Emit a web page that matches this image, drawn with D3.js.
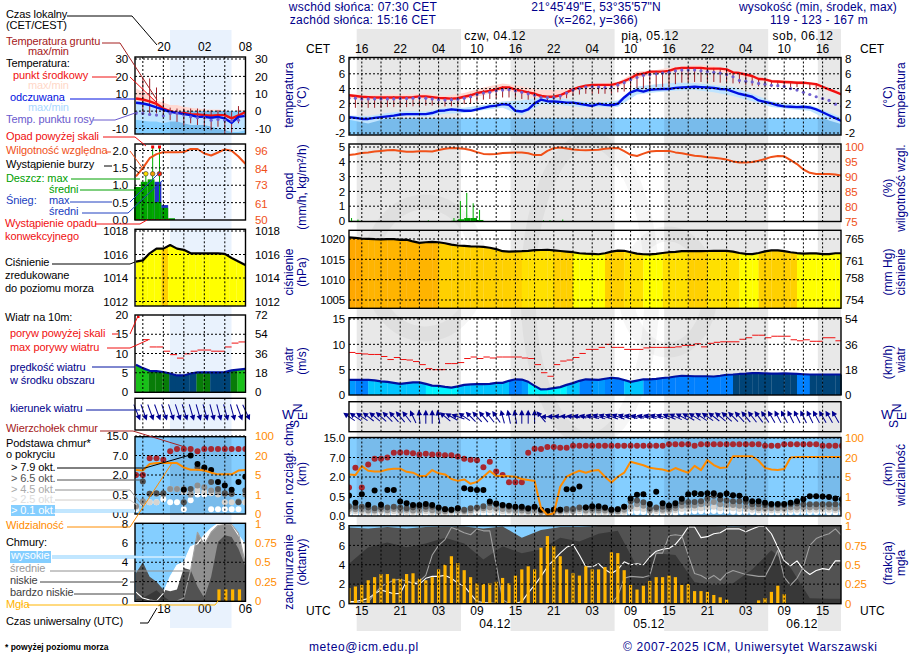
<!DOCTYPE html>
<html><head><meta charset="utf-8">
<script src="https://cdn.jsdelivr.net/npm/d3@7"></script>
<style>
html,body{margin:0;padding:0;background:#fff}
svg{display:block}
text{font-family:"Liberation Sans",Arial,sans-serif;font-size:12px}
</style></head><body><svg id="c" width="910" height="660"></svg>
<script>
// ---------- MAIN PANEL DATA (hourly from 13 UTC 03.12, index i) ----------
const tMid=[3.1,3.0,2.9,2.85,2.8,2.8,2.8,2.8,2.8,2.8,2.85,2.95,2.95,2.85,2.75,2.7,2.65,2.7,2.9,3.1,3.4,3.55,3.7,3.9,4.15,4.15,3.85,3.7,3.5,3.3,3.0,2.9,2.9,3.1,3.5,3.9,4.2,4.4,4.5,4.5,4.5,4.5,4.7,5.0,5.4,5.9,6.0,6.3,6.3,6.3,6.4,6.7,6.8,6.8,6.8,6.8,6.7,6.7,6.7,6.6,6.2,6.1,5.9,5.7,5.3,5.25,5.0,4.95,4.9,4.85,4.8,4.8,4.7,4.6,4.25,3.9,3.55,3.2];
const feels=[0.15,0.05,-0.1,-0.1,0.05,0.15,0.25,0.35,0.5,0.55,0.55,0.55,0.55,0.7,1.0,1.05,1.2,1.1,1.0,1.0,1.2,1.4,1.6,1.7,1.9,1.8,1.0,0.9,1.2,2.0,2.5,2.3,2.25,2.2,2.1,2.1,1.95,1.8,1.65,1.95,1.8,1.75,1.95,2.8,3.5,3.8,3.6,3.85,3.9,3.95,3.95,4.1,4.15,4.2,4.25,4.2,4.15,4.1,3.95,3.9,3.6,3.3,3.1,2.9,2.4,2.2,2.0,1.75,1.6,1.55,1.5,1.55,1.45,1.2,0.8,0.4,0,-0.4];
const dew=[2.7,2.7,2.6,2.6,2.6,2.6,2.6,2.6,2.65,2.65,2.7,2.75,2.7,2.6,2.5,2.45,2.5,2.55,2.7,2.9,3.2,3.4,3.5,3.7,3.8,3.85,3.7,3.5,3.3,3.1,2.8,2.8,2.8,3.0,3.4,3.8,4.0,4.2,4.25,4.2,4.15,4.2,4.5,4.8,5.2,5.5,5.8,5.9,6.0,6.1,6.2,6.4,6.5,6.5,6.5,6.4,6.3,6.2,6.1,5.9,5.6,5.1,5.0,4.9,4.7,4.6,4.45,4.4,4.3,4.0,3.8,3.5,3.2,2.9,2.65,2.4,1.9,1.6];
const groundMax=[3.2,3.0,3.0,3.0,2.9,2.9,2.9,3.0,3.0,2.9,3.0,3.0,3.0,3.0,2.8,2.8,2.8,2.9,3.0,3.3,3.5,3.8,4.0,4.1,4.3,4.2,4.0,3.8,3.7,3.5,3.2,3.0,3.0,3.2,3.6,4.0,4.3,4.5,4.6,4.6,4.6,4.7,4.9,5.1,5.6,6.0,6.2,6.3,6.4,6.4,6.5,6.8,6.9,6.9,6.9,6.8,6.8,6.8,6.7,6.6,6.2,6.1,5.9,5.7,5.4,5.3,5.1,5.0,5.0,4.9,4.9,4.8,4.7,4.6];
const groundMin=[1.5,1.4,1.5,1.4,1.4,1.4,1.5,1.5,1.5,1.5,1.6,1.6,1.7,1.7,1.7,1.6,1.6,1.7,1.9,2.0,2.3,2.5,2.6,2.7,2.8,2.8,2.8,2.6,2.5,2.4,2.4,2.4,2.5,2.5,2.7,3.0,3.2,3.3,3.3,3.3,3.3,3.3,3.5,3.6,3.8,4.0,4.0,4.1,4.2,4.2,4.3,4.6,4.8,4.9,4.9,4.9,4.9,4.9,4.8,4.8,4.7,4.7,4.5,4.4,4.3,4.3,4.2,4.2,4.2,4.2,4.2,4.1,4.0,3.8];
// three-hourly envelopes
const tMax=[3.3,3.1,3.2,3.2,3.3,3.0,3.4,4.15,4.7,4.3,3.8,3.8,4.3,4.7,4.9,6.3,6.5,6.95,7.2,7.1,6.3,5.8,5.2,5.1,4.9,4.0,3.4];
const tMin=[2.7,2.55,2.5,2.55,2.65,2.45,2.6,3.1,3.8,3.3,2.5,2.6,3.9,4.2,4.3,5.4,6.0,6.4,6.6,6.4,5.9,5.4,4.8,4.6,4.5,3.6,3.0];
const fMax=[0.35,0.3,0.7,0.95,0.9,1.4,1.4,1.8,2.25,2.4,2.8,2.7,2.3,2.1,2.4,4.3,4.6,4.8,4.75,4.5,4.2,3.3,2.3,1.9,1.8,0.8,-0.2];
const fMin=[-0.2,-0.7,0,0.3,0.2,0.6,0.7,1.1,1.4,0.4,1.9,1.8,1.5,1.5,1.5,3.2,3.5,3.7,3.8,3.5,3.0,2.3,1.5,1.2,1.0,-0.3,-1.1];
const humidity=[97.3,97.6,98,98.2,98.5,98.7,98.9,99,98.7,98.4,98.4,98.6,98.6,98.5,99,99.4,99.7,99.6,99.4,99,98.3,97.7,97.6,97.7,98,98.1,98.2,98.2,97.9,97.3,97.3,98.7,99.6,99.8,99.5,99.2,99,98.9,99,99.1,99.4,99.6,99.7,98.6,97.4,97,97.8,98.5,98.7,98.7,98.7,98.2,97.9,97.5,97.1,96.9,96.6,96.4,96.2,95.8,95.2,94.8,94.8,95,95.4,96,96.7,97,96.9,95.6,94.3,92.5,91.4,91,91,91,90.8,90.5];
const rainHours=[0,1,12,16,17,18,19,20,30,31,33];
const rainMax=[0.2,0.1,0.05,0.2,1.35,1.9,1.2,0.75,0.05,0.05,0.1];
const rainMean=[0.01,0.01,0,0.02,0.12,0.2,0.2,0.07,0,0,0];
const pressure=[1020.4,1020.3,1020.1,1020.05,1019.95,1019.9,1019.95,1019.95,1019.8,1019.85,1019.4,1019.05,1019.2,1019.3,1019.2,1018.95,1018.6,1018.4,1018.3,1018.2,1018.15,1018.05,1017.85,1017.5,1017,1016.9,1016.95,1017,1017.1,1017.25,1017.3,1017.35,1017.2,1017.05,1016.9,1016.75,1016.5,1016.4,1016.35,1016.25,1016.5,1016.9,1017.15,1017.1,1016.75,1016.4,1016.25,1016.2,1016.35,1016.55,1016.75,1016.85,1017,1017.05,1017,1017,1017.05,1017.1,1017.1,1017.1,1016.9,1016.55,1016.35,1016.3,1016.55,1016.95,1017.2,1017.2,1017,1016.75,1016.55,1016.4,1016.45,1016.45,1016.3,1016.3,1016.5,1016.5];
const pressureCat=[0,0,1,1,1,1,1,1,1,1,1,1,1,1,2,2,2,2,2,2,2,2,2,2,2,2,2,3,3,3,3,3,2,2,2,4,4,4,4,4,2,2,2,3,3,3,4,4,4,3,3,3,3,2,2,2,3,3,3,3,3,4,4,4,2,2,2,2,2,2,4,4,4,4,4,4,4,4];
const windSpeed=[3,3,3,3,2.9,2.7,2.6,2.4,2.2,2.35,2.5,2.5,2.2,1.85,1.8,1.6,1.45,1.7,2,2.1,2.15,2.15,2.2,2.4,2.4,2.8,3.1,3.05,2.6,1.8,1.1,1.15,1.35,1.55,2,2.35,2.8,3.1,3.05,3,3.2,3.4,3.3,2.95,2.6,2.85,3.1,3.1,3.2,3.35,3.45,3.65,3.8,3.75,3.7,3.7,3.7,3.65,3.8,4,4.05,4.15,4.2,4.3,4.3,4.25,4.2,4.2,4.25,4.2,4.15,4.1,4.05,4.05,4.05,4.05,4.05,4.05];
const windCat=[2,3,3,1,1,1,1,1,1,1,1,1,0,0,0,0,0,1,1,1,1,1,1,1,1,3,3,2,0,0,0,0,0,0,1,1,3,3,2,2,3,3,3,1,1,1,3,3,3,3,3,3,3,3,3,3,3,3,3,3,4,4,4,4,4,4,4,4,4,4,3,3,4,4,4,4,4,4];
const gust=[8.4,8.2,8.1,8,8,7.6,7,7.4,7,6.9,6.6,6,5.2,5,5,6.2,6.2,6.4,7.2,7.5,7.2,7.5,7.3,7.5,7.5,7.5,7.5,7.3,7.2,6,4.4,3.7,6,6.7,6.9,7.4,8.2,9,9,9.4,10,9.4,9.4,9,9,9,9.3,9.4,9.4,9.4,9.4,9.5,9.8,9.8,10.1,9.5,10.2,10.4,10.5,10.5,10.5,11,11.3,11.8,11.8,11.3,11.6,11.6,11.6,10.9,10.7,10.9,10.6,10.6,11.3,11.3,10.7,10.7];
const windHeading=[-55,-55,-55,-52,-50,-48,-45,-42,-40,-38,-25,-5,0,0,-10,-50,-60,-70,-55,-45,-42,-40,-38,-35,-15,-12,-10,0,0,0,-40,-90,-88,-85,-85,-82,-80,-78,-75,-72,-72,-70,-70,-72,-75,-78,-78,-76,-74,-72,-68,-65,-62,-60,-58,-56,-55,-52,-50,-48,-45,-42,-40,-38,-36,-34,-30,-28,-28,-26,-26,-26,-26,-28,-30,-30,-30,-30];
const topCloud=[1.2,4.4,1.2,5.2,6.7,6.7,7,9,9.1,9.1,8.7,8.2,8.5,8.2,8.2,7.9,7.9,7.4,6.7,6.4,6.3,4.5,5.9,3.4,2.5,1.6,1.6,1.6,9,10.6,10.5,11.3,11.3,11,11,11.8,11.8,11.8,11.8,11.8,11.8,11.8,11.8,11.8,11.8,11.8,11.8,11.8,11.8,11.8,12.4,12.4,12.4,12.4,11.8,12.4,12.4,12.4,12.4,12.4,12.4,12.4,12.4,12.4,12.4,11.8,11.8,11.8,12.4,12.4,12.4,12.4,12.4,12.4,11.8,11.8,11.8,11.8];
const base79=[.58,.34,.68,.29,.96,.29,1,1,.37,.33,.28,.28,.31,.28,.22,.17,.16,.2,1.14,1.06,1,1,.37,.32,.28,.26,.24,.24,.2,.24,.16,.13,.16,.16,1.06,1.06,1.26,.22,.25,.25,.22,.16,.17,.24,.45,.63,.68,.31,.86,.33,.27,.33,.44,.68,.75,.7,.75,.75,.6,.73,.6,.55,.44,.38,.38,.34,.31,.31,.31,.34,.38,.43,.52,.52,.5,.49,.45,.43];
const base65=[.25,.24,.24,.22,.2,.22,.22,.24,.22,.2,.22,.24,.24,.24,.2,.18,.16,.2,.16,.2,.22,.25,.33,.3,.26,.24,.22,.2,.18,.22,.16,.13,.16,.16,.18,.18,.22,.22,.2,.2,.2,.16,.17,.24,.38,.4,.35,.2,.22,.24,.22,.27,.36,.36,.36,.38,.44,.55,.42,.4,.38,.38,.36,.3,.3,.28,.28,.28,.28,.3,.32,.3,.3,.3,.3,.3,.3,.3];
const base45=[.18,.17,.16,.14,.14,.16,.15,.18,.14,.16,.14,.15,.17,.15,.12,.12,.14,.14,.13,.15,.2,.2,.22,.2,.18,.16,.14,.14,.12,.14,.1,.09,.11,.12,.14,.13,.18,.14,.14,.14,.14,.12,.12,.16,.24,.3,.26,.15,.18,.16,.16,.2,.26,.26,.27,.3,.32,.36,.3,.28,.28,.26,.24,.22,.2,.2,.2,.2,.2,.22,.22,.22,.22,.22,.22,.22,.2,.2];
const base25=[.12,.12,.1,.1,.1,.12,.1,.12,.1,.1,.1,.1,.12,.1,.09,.08,.1,.1,.09,.1,.15,.15,.15,.14,.12,.12,.1,.1,.09,.1,.07,.07,.08,.09,.1,.1,.12,.1,.1,.1,.1,.09,.09,.11,.18,.2,.18,.12,.13,.12,.12,.15,.18,.18,.2,.2,.22,.24,.2,.2,.2,.18,.17,.16,.15,.15,.15,.15,.15,.16,.16,.16,.16,.16,.16,.16,.15,.15];
const base01=[.06,.06,.05,.06,.05,.06,.05,.06,.05,.06,.05,.05,.06,.05,.05,.05,.05,.05,.05,.05,.08,.08,.08,.07,.06,.06,.05,.05,.05,.05,.04,.04,.05,.05,.05,.05,.06,.05,.05,.05,.05,.05,.05,.06,.1,.1,.1,.07,.08,.07,.07,.08,.1,.1,.12,.12,.12,.13,.12,.12,.11,.1,.1,.1,.09,.09,.09,.09,.09,.1,.1,.1,.1,.1,.1,.09,.09,.09];
const visibility=[7,6.5,13.4,9.8,9.3,9.3,10.8,11.4,11.4,9,8.3,5.8,5.8,10.3,7.8,7,4.6,4.2,4.5,3.6,4,5.2,9.6,5.8,5.8,5.5,5.2,4.6,4.4,4.2,.4,.05,.14,3,5.2,7.8,9.8,8.3,9.8,10.3,5.2,3.85,5.2,8.3,16.7,15.4,14,12.1,11.4,10.8,9.3,11.9,10,8.3,13.6,10.3,18,14.2,11.9,12.4,25,25,25,25,17.5,12,10.8,10.3,11.1,20,22,22,22,22,22,22,22,22];
const cHigh=[.2,.2,.35,.5,1,1.4,1.2,1,1.05,2.3,2.1,2,2.6,2.8,2.8,2.9,2.6,2.1,1.8,1,.2,.1,.05,0,0,0,0,.2,1.1,1.9,2.8,3.8,4.5,5.2,5.8,6.1,5,3.8,3.8,4.1,3.5,3.1,3.5,4.3,4,4.1,4,4.8,5.4,5.6,5.7,6.1,6.9,7.9,7.9,6.8,6.9,7.2,7.3,7.7,7.7,7.7,7.4,7.7,7.95,7.95,7.2,5.8,4.4,3.9,4.4,3.5,3,3.4,3.6,3.5,4.4,4.4];
const cMid=[.1,.1,.1,.15,1,1.75,2.1,2.4,2.5,2.3,2.1,2.3,2.9,5,6,6.6,7.85,7.6,7.3,7.1,7.7,7.5,7.5,4,.4,0,0,0,0,0,0,0,0,0,0,0,0,0,0,0,0,0,.8,2.6,2.8,2.75,2.7,2.9,5.2,5.2,7,7.1,7,5,3.1,2.9,2.5,2.9,2.4,3.1,3.4,3.2,3,2.9,2.8,2.8,4,5.5,2.7,1.9,2.6,3.8,6,6.7,7,7.2,7.7,7];
// three-hourly cloud layers
const cLow=[7.85,7.75,7.9,7.75,7.9,7.95,7.95,7.75,7.95,6.8,7.6,7.9,7.9,8,8,8,8,8,8,8,7.95,8,8,8,8,8,8];
const cVlow=[4.1,5.8,6.3,5.8,6.2,6.8,6.2,4.55,5.9,5.2,5.6,6.8,6.4,7.2,7.5,3.8,5.2,5,2.2,1.9,2.1,3.5,5.5,3.7,.55,.5,.5];
const fog=[.2,.22,.24,.3,.34,.38,.38,.32,.32,.38,.39,.32,.3,.34,.44,.5,.61,.52,.43,.34,.26,.25,.26,.28,.33,.26,.36,.44,.48,.44,.72,.87,.74,.61,.44,.39,.36,.48,.44,.44,.47,.66,.65,.43,.24,.18,.23,.29,.34,.34,.36,.34,.24,.25,.16,.16,.15,.11,.08,.05,0,0,0,0,.04,.07,.15,.23,.12,0,0,0,0,0,0,0,0,0];

// ---------- LEFT PANEL DATA (hourly from 14 UTC) ----------
const lT=[7.3,6.7,5.6,4.2,1.5,0,-1,-1,-1.7,-1.9,-2.3,-2.7,-2.3,-2.3,-4.2,-2.5,-.6];
const lFeels=[4.8,4.4,3.5,2.1,.8,-.4,-1,-1.7,-2.3,-3.3,-3.3,-3.8,-3.3,-4.2,-6.7,-3.3,-2.7];
const lDew=[-1.3,-1.3,-1.9,-2.3,-2.7,-1.3,-1.3,-2.3,-3.3,-3.8,-3.8,-5.2,-4.8,-5.2,-5.6,-5.2,-2.3];
const lTMax=[13,11,9,6,5,3.5,3.5,2.5,2,1.5,1,1,1,0.5,-1,1,.5];
const lTMin=[5,4.5,3,1.5,-.5,-2,-2.5,-2.5,-3,-3,-3.5,-4,-4,-4,-5.5,-4,-2];
const lFMax=[6,5.5,4.5,3,1.5,.5,0,-.5,-1,-2,-2,-2.5,-2,-3,-5,-2,-1];
const lFMin=[-5,-5.5,-6,-6,-7,-6,-6,-7,-8,-8,-8,-9,-10,-11,-12,-12,-11];
const lGroundMax=[null,18.8,18.8,13.6,7.3,2,1.5,1.5,1.5,1.5,1.5,.6,.6,.6,-.4,2.9,null];
const lGroundMin=[null,-1.3,-1.3,-1.3,-3.3,-5.2,-6.2,-8,-7,-8,-9,-11,-9,-12.8,-12.4,-7,null];
const lHumidity=[78.8,84.3,90.9,93.6,94.9,94.9,94.9,95,97,97,94,92.7,94.7,96.7,95.8,92,87.2];
const lRainMean=[.95,1.1,1.17,.52,.35,.05,0,0,0,0,0,0,0,0,0,0,0];
const lSnowMean=[0,0,0,1.1,.43,0,0,0,0,0,0,0,0,0,0,0,0];
const lRainMax=[null,1.33,2.1,2.1];
const lStormColor=[null,"#ffe000","#f0a000","#ff2000"];
const lPressure=[1015.4,1015.5,1016.1,1016.5,1016.5,1016.8,1016.5,1016.4,1016.1,1016.1,1016.1,1016.1,1016.1,1016.05,1015.7,1015.4,1015.1];
const lWind=[7.1,6.2,5.5,5.4,5.2,4.8,4.3,4.3,4.8,5.1,5.1,5.1,5.1,5.2,5.6,5.8,6];
const lWindCat=[0,0,1,1,1,2,2,2,2,1,1,2,2,2,1,0,0];
const lGust=[null,13.6,11.7,11.7,10.6,9.7,8.8,9.9,10.6,10.9,10.9,10.6,10.6,11.7,12.7,13,13];
const lHeading=[158,160,160,160,162,162,162,162,164,164,164,165,165,165,165,160,155];
const lTop=[2,2,6.3,6.3,5.9,8.7,9.7,9.7,9.7,8.7,9.7,9.7,9.7,9.7,9.7,9.7,9.7];
const lB79=[null,null,null,null,null,null,null,.87,7,4.8,3.9,3.3,1.47,1.2,.87,1.47,1.87];
const lB65=[null,1.5,.55,.6,.6,null,null,.3,.92,3.9,3.6,1.47,.92,.6,.55,.3,.8];
const lB45=[.2,.33,.55,.55,.55,.92,.92,.92,.5,1.2,1.05,.8,.7,.55,.55,.32,.5];
const lB25=[.16,.28,.3,.3,.5,.92,.92,.7,.6,.8,.7,.6,.5,.3,.3,.3,.3];
const lB01=[.12,.28,.3,.3,.38,.3,.3,.12,.35,.5,.5,.12,.12,.12,.12,.12,.3];
const lVis=[8.9,8.4,13.4,14.2,14.2,14.2,14.2,10.8,9,9,8.4,6.8,5.5,5.5,5.5,8.4,8.9];
const lHigh=[.9,.3,.1,0,.8,2.5,3.7,4,5.6,5.9,6.8,7.5,8,8,7.9,6.8,5.8];
const lMid=[0,0,0,0,0,0,0,.3,3.2,7.1,5.8,7.1,7.8,7.9,7.9,7,3.9];
const lLow=[2.9,4,2.5,2,1.2,1,1.2,3.4,3.2,1.5,.3,2.5,6.1,6.8,6.6,5.4,3.6];
const lVlow=[.2,.3,.7,1.1,.5,0,0,0,0,0,0,0,0,0,0,0,0];
const lFog=[0,0,0,0,0,0,0,0,0,0,0,0,.15,.15,.15,.15,0];

// ---------- TICKS ----------
const localTicksMain=["16","22","04","10","16","22","04","10","16","22","04","10","16"];
const utcTicksMain=["15","21","03","09","15","21","03","09","15","21","03","09","15"];
const dayTop=[["czw, 04.12",495],["pią, 05.12",650],["sob, 06.12",803]];
const dayBottom=[["04.12",495],["05.12",649],["06.12",802]];

const svg=d3.select("#c");
const N=tMid.length, I=d3.range(N), I3=d3.range(tMax.length).map(k=>k*3);
const xM=d3.scaleLinear().domain([0,76.875]).range([349,841]);
const xL=d3.scaleLinear().domain([0,16]).range([136,245.3]);
const frameM={x0:349,x1:841}, frameL={x0:135,x1:245.5};
let uid=0;
const COL={red:"#f01010",blue:"#0010e0",purple:"#7060d0",brown:"#a02028",rh:"#f05018",vis:"#ff8c00",fogc:"#ffb400",navy:"#00008b",
 sky:"#84ceff",skyDark:"#78bbeb"};

function line(g,pts,color,w,dash){
 g.append("polyline").attr("points",pts.map(p=>p.join(",")).join(" ")).attr("fill","none").attr("stroke",color).attr("stroke-width",w||1).attr("stroke-dasharray",dash||null);
}
function txt(g,x,y,s,color,opt={}){
 const t=g.append("text").attr("x",x).attr("y",y).attr("fill",color||"#000").attr("dominant-baseline","middle").attr("text-anchor",opt.anchor||"start").text(s);
 if(opt.size)t.style("font-size",opt.size+"px");
 if(opt.spacing)t.style("letter-spacing",opt.spacing+"px");
 if(opt.weight)t.style("font-weight",opt.weight);
 return t;
}
function rot(g,x,y,s,color){
 g.append("text").attr("transform",`translate(${x},${y}) rotate(-90)`).attr("text-anchor","middle").attr("dominant-baseline","middle").attr("fill",color||COL.navy).style("letter-spacing","0.05px").text(s);
}
function mkClip(f,top,bottom){
 const id="clip"+(uid++);
 svg.append("clipPath").attr("id",id).append("rect").attr("x",f.x0).attr("y",top).attr("width",f.x1-f.x0).attr("height",bottom-top);
 return id;
}
function gridV(g,x,values,top,bottom){
 g.selectAll(null).data(values).join("line").attr("x1",d=>x(d)).attr("x2",d=>x(d)).attr("y1",top).attr("y2",bottom)
  .attr("stroke","#000").attr("stroke-width",1).attr("stroke-dasharray","2,2");
}
function gridH(g,y,values,f){
 g.selectAll(null).data(values).join("line").attr("x1",f.x0).attr("x2",f.x1).attr("y1",d=>y(d)).attr("y2",d=>y(d))
  .attr("stroke","#000").attr("stroke-width",1).attr("stroke-dasharray","2,2");
}
function axis(side,x,scale,values,fmt,color){
 const gen=(side==="left"?d3.axisLeft:d3.axisRight)(scale).tickValues(values).tickSize(0).tickPadding(0).tickFormat(fmt||(d=>d));
 const g=svg.append("g").attr("transform",`translate(${x},0)`).call(gen);
 g.select(".domain").remove();
 g.selectAll("text").attr("fill",color||"#000").style("font-size","11.5px").style("letter-spacing","-0.2px");
}
function frame(f,top,bottom){
 svg.append("rect").attr("x",f.x0).attr("y",top).attr("width",f.x1-f.x0).attr("height",bottom-top).attr("fill","none").attr("stroke","#000").attr("stroke-width",1.4);
}
function pathLine(g,x,y,idx,vals,color,w,clip){
 const l=d3.line().defined(d=>vals[d]!=null).x(d=>x(d)).y(d=>y(vals[d]));
 const p=g.append("path").attr("d",l(idx)).attr("fill","none").attr("stroke",color).attr("stroke-width",w).attr("stroke-linejoin","round");
 if(clip)p.attr("clip-path",`url(#${clip})`);
 return p;
}
function band(g,x,y,idx,a,b,color,clip){
 const ar=d3.area().x((d)=>x(idx[d])).y0(d=>y(b[d])).y1(d=>y(a[d]));
 g.append("path").attr("d",ar(d3.range(idx.length))).attr("fill",color).attr("clip-path",`url(#${clip})`);
}
function dots(g,x,y,vals,color,r,clip){
 g.selectAll(null).data(vals.map((v,i)=>[i,v]).filter(d=>d[1]!=null)).join("circle")
  .attr("cx",d=>x(d[0])).attr("cy",d=>y(d[1])).attr("r",r).attr("fill",color).attr("clip-path",`url(#${clip})`);
}

// ---------- BACKGROUND ----------
const nightBands=[[1.2,17.5],[25.25,41.5],[49.25,65.5],[73.25,76.875]];
const dayBands=[[-1,1.2],[17.5,25.25],[41.5,49.25],[65.5,73.25]];
const bg=svg.append("g");
bg.selectAll(null).data(nightBands).join("rect").attr("x",d=>xM(d[0])).attr("width",d=>xM(d[1])-xM(d[0])).attr("y",29).attr("height",602).attr("fill","#e8e8e8");
bg.append("rect").attr("x",170).attr("y",30).attr("width",61.5).attr("height",598).attr("fill","#e9f2fd");
// faint background logo
const wm=svg.append("g").attr("fill","none").attr("stroke","#000").attr("stroke-opacity",0.035).attr("stroke-width",15);
wm.append("ellipse").attr("cx",425).attr("cy",268).attr("rx",55).attr("ry",66);
wm.append("ellipse").attr("cx",590).attr("cy",290).attr("rx",62).attr("ry",150);
wm.append("ellipse").attr("cx",668).attr("cy",292).attr("rx",42).attr("ry",58);

// ---------- TEMPERATURE ----------
function tempPanel(f,x,top,bottom,y,ticks,gridVals,d){
 const g=svg.append("g"), c=mkClip(f,top,bottom);
 band(g,x,y,d.idx3,d.tMax,d.tMin,"#ffd9d2",c);
 d.zeroFill(g,c);
 band(g,x,y,d.idx3,d.fMax,d.fMin,"#bfe4ff",c);
 d.groundIdx.forEach(i=>{ g.append("line").attr("x1",x(i)).attr("x2",x(i)).attr("y1",y(d.gMax[i])).attr("y2",y(d.gMin[i])).attr("stroke",COL.brown).attr("stroke-width",1).attr("clip-path",`url(#${c})`);});
 pathLine(g,x,y,d.idx,d.t,COL.red,2.4,c);
 pathLine(g,x,y,d.idx,d.f,COL.blue,2.4,c);
 dots(g,x,y,d.dew,COL.purple,1.6,c);
 gridH(g,y,gridVals,f); gridV(g,x,d.gridX,top,bottom); frame(f,top,bottom);
}
const yT=d3.scaleLinear().domain([-2,8]).range([133,59]);
tempPanel(frameM,xM,57.5,135,yT,[],[-2,0,2,4,6,8],{
 idx:I,idx3:I3,tMax,tMin,fMax,fMin,t:tMid,f:feels,dew,gMax:groundMax,gMin:groundMin,groundIdx:groundMin.map((_,i)=>i),gridX:d3.range(2,77,3),
 zeroFill(g,c){
  g.append("rect").attr("x",349).attr("width",492).attr("y",yT(0)).attr("height",yT(-2.4)-yT(0)).attr("fill",COL.skyDark).attr("clip-path",`url(#${c})`);
  g.selectAll(null).data(dayBands).join("rect").attr("x",d=>xM(d[0])).attr("width",d=>xM(d[1])-xM(d[0])).attr("y",yT(0)).attr("height",yT(-2.4)-yT(0)).attr("fill",COL.sky).attr("clip-path",`url(#${c})`);
 }});
axis("left",345,yT,[-2,0,2,4,6,8]); axis("right",845,yT,[-2,0,2,4,6,8]);

const yTL=d3.scaleLinear().domain([-10,30]).range([128.5,59]);
const JL=d3.range(17);
tempPanel(frameL,xL,57,134,yTL,[],[-10,0,10,20,30],{
 idx:JL,idx3:JL,tMax:lTMax,tMin:lTMin,fMax:lFMax,fMin:lFMin,t:lT,f:lFeels,dew:lDew,gMax:lGroundMax,gMin:lGroundMin,groundIdx:d3.range(1,16),gridX:[1,4,7,10,13],
 zeroFill(g,c){ g.append("rect").attr("x",135).attr("width",110.5).attr("y",yTL(0)).attr("height",yTL(-13)-yTL(0)).attr("fill",COL.sky).attr("clip-path",`url(#${c})`);
  g.append("rect").attr("x",170).attr("width",61.5).attr("y",yTL(0)).attr("height",yTL(-13)-yTL(0)).attr("fill",COL.skyDark).attr("clip-path",`url(#${c})`);
 }});
axis("left",128,yTL,[-10,0,10,20,30]); axis("right",255,yTL,[-10,0,10,20,30]);

// ---------- PRECIP / HUMIDITY ----------
{
 const top=144,bottom=221.5,f=frameM,g=svg.append("g"),c=mkClip(f,top,bottom);
 const y=d3.scaleLinear().domain([0,5]).range([221,147]);
 const yR=d3.scaleLinear().domain([75,100]).range([222,147]);
 g.selectAll(null).data(rainHours).join("rect").attr("x",d=>xM(d)).attr("width",6.4).attr("y",(d,k)=>y(rainMean[k])).attr("height",(d,k)=>y(0)-y(rainMean[k])).attr("fill","#00a000");
 g.selectAll(null).data(rainHours).join("line").attr("x1",d=>xM(d+.4)).attr("x2",d=>xM(d+.4)).attr("y1",(d,k)=>y(rainMax[k])).attr("y2",y(0)).attr("stroke","#00b000").attr("stroke-width",1);
 pathLine(g,xM,yR,I,humidity,COL.rh,2,c);
 gridH(g,y,[1,2,3,4,5],f); gridV(g,xM,d3.range(2,77,3),top,bottom); frame(f,top,bottom);
 axis("left",345,y,[0,1,2,3,4,5]);
 axis("right",845,yR,[75,80,85,90,95,100],null,COL.rh);
}
{
 const top=144,bottom=220,f=frameL,g=svg.append("g"),c=mkClip(f,top,bottom);
 const y=d3.scaleLinear().domain([0,2]).range([220,150.5]);
 const yR=d3.scaleLinear().domain([50,96]).range([220,150.5]);
 g.selectAll(null).data(JL).join("rect").attr("x",d=>xL(d)-2).attr("width",6.83).attr("y",d=>y(lSnowMean[d])).attr("height",d=>y(0)-y(lSnowMean[d])).attr("fill","#2030c8");
 g.selectAll(null).data(JL).join("rect").attr("x",d=>xL(d)-2).attr("width",6.83).attr("y",d=>y(lRainMean[d])).attr("height",d=>y(0)-y(lRainMean[d])).attr("fill","#00a000");
 lRainMax.forEach((v,j)=>{ if(v!=null) g.append("line").attr("x1",xL(j)+3).attr("x2",xL(j)+3).attr("y1",y(v)).attr("y2",y(0)).attr("stroke","#00b000"); });
 lStormColor.forEach((col,j)=>{ if(col) g.append("circle").attr("cx",xL(j)+3).attr("cy",y(1.33)).attr("r",2.3).attr("fill",col).attr("stroke","#333").attr("stroke-width",.6); });
 [2,3].forEach(j=>g.append("rect").attr("x",xL(j)+1.5).attr("y",145.5).attr("width",3).attr("height",3).attr("fill","#f00000"));
 line(g,[[xL(0),219.5],[xL(5),219.5]],"#e02020",1.2,"3,2");
 pathLine(g,xL,yR,JL,lHumidity,COL.rh,2,c);
 gridH(g,y,[.5,1,1.5,2],f); gridV(g,xL,[1,4,7,10,13],top,bottom); frame(f,top,bottom);
 axis("left",128,y,[0,.5,1,1.5,2],d3.format(".1f"));
 axis("right",255,yR,[50,61,73,84,96],null,COL.rh);
}

// ---------- PRESSURE ----------
const pressColors=["#ffa800","#ffb400","#ffd000","#ffe000","#ffff00"];
{
 const top=230.3,bottom=308.3,f=frameM,g=svg.append("g");
 const y=d3.scaleLinear().domain([1005,1020]).range([300,239]);
 const yR=d3.scaleLinear().domain([754,765]).range([300,239]);
 const clipId="pr"+(uid++);
 const ar=d3.area().x(d=>xM(d)).y0(bottom).y1(d=>y(pressure[d]));
 svg.append("clipPath").attr("id",clipId).append("path").attr("d",ar(I));
 const inner=g.append("g").attr("clip-path",`url(#${clipId})`);
 inner.selectAll(null).data(I).join("rect").attr("x",d=>xM(d)).attr("width",6.6).attr("y",top).attr("height",bottom-top).attr("fill",d=>pressColors[pressureCat[d]]);
 const c=mkClip(f,top,bottom);
 pathLine(g,xM,y,I,pressure,"#000",2.2,c);
 gridH(g,y,[1005,1010,1015,1020],f); gridV(g,xM,d3.range(2,77,3),top,bottom); frame(f,top,bottom);
 axis("left",345,y,[1005,1010,1015,1020]); axis("right",845,yR,[754,758,761,765]);
}
{
 const top=229.3,bottom=306,f=frameL,g=svg.append("g");
 const y=d3.scaleLinear().domain([1012,1018]).range([301.5,231]);
 const clipId="pr"+(uid++);
 const ar=d3.area().x(d=>xL(d)).y0(bottom).y1(d=>y(lPressure[d]));
 svg.append("clipPath").attr("id",clipId).append("path").attr("d",ar(JL));
 const inner=g.append("g").attr("clip-path",`url(#${clipId})`);
 inner.selectAll(null).data(JL).join("rect").attr("x",d=>xL(d)-2).attr("width",7).attr("y",top).attr("height",bottom-top).attr("fill",d=>d===4?"#ffd000":"#ffff00");
 const c=mkClip(f,top,bottom);
 pathLine(g,xL,y,JL,lPressure,"#000",2.2,c);
 gridH(g,y,[1012,1014,1016,1018],f); gridV(g,xL,[1,4,7,10,13],top,bottom); frame(f,top,bottom);
 axis("left",128,y,[1012,1014,1016,1018]); axis("right",255,y,[1012,1014,1016,1018]);
}

// ---------- WIND ----------
const windColors=["#00f4ff","#00c4ff","#0099ff","#0080ff","#004478"];
const lWindColors=["#18c018","#087c08","#004478"];
{
 const top=317.7,bottom=395,f=frameM,g=svg.append("g");
 const y=d3.scaleLinear().domain([0,15]).range([395,319]);
 const yR=d3.scaleLinear().domain([0,54]).range([395,319]);
 const clipId="w"+(uid++);
 svg.append("clipPath").attr("id",clipId).append("path").attr("d",d3.area().x(d=>xM(d)).y0(bottom).y1(d=>y(windSpeed[d]))(I));
 g.append("g").attr("clip-path",`url(#${clipId})`).selectAll(null).data(I).join("rect").attr("x",d=>xM(d)).attr("width",6.6).attr("y",top).attr("height",bottom-top).attr("fill",d=>windColors[windCat[d]]);
 const c=mkClip(f,top,bottom);
 pathLine(g,xM,y,I,windSpeed,"#0010a0",2.2,c);
 g.selectAll(null).data(I).join("line").attr("x1",d=>xM(d)).attr("x2",d=>xM(d+1)).attr("y1",d=>y(gust[d])).attr("y2",d=>y(gust[d])).attr("stroke","#f01010").attr("stroke-width",1).attr("clip-path",`url(#${c})`);
 gridH(g,y,[5,10,15],f); gridV(g,xM,d3.range(2,77,3),top,bottom); frame(f,top,bottom);
 axis("left",345,y,[0,5,10,15]); axis("right",845,yR,[0,18,36,54]);
}
{
 const top=315,bottom=392.3,f=frameL,g=svg.append("g");
 const y=d3.scaleLinear().domain([0,20]).range([392,315]);
 const yR=d3.scaleLinear().domain([0,72]).range([392,315]);
 const clipId="w"+(uid++);
 svg.append("clipPath").attr("id",clipId).append("path").attr("d",d3.area().x(d=>xL(d)).y0(bottom).y1(d=>y(lWind[d]))(JL));
 g.append("g").attr("clip-path",`url(#${clipId})`).selectAll(null).data(JL).join("rect").attr("x",d=>xL(d)-1).attr("width",7).attr("y",top).attr("height",bottom-top).attr("fill",d=>lWindColors[lWindCat[d]]);
 const c=mkClip(f,top,bottom);
 pathLine(g,xL,y,JL,lWind,"#0010a0",2.2,c);
 g.selectAll(null).data(JL.filter(d=>d<16&&lGust[d]!=null)).join("line").attr("x1",d=>xL(d)).attr("x2",d=>xL(d+1)).attr("y1",d=>y(lGust[d])).attr("y2",d=>y(lGust[d])).attr("stroke","#f01010");
 g.append("rect").attr("x",137).attr("y",315.5).attr("width",2.5).attr("height",2.5).attr("fill","#f00000");
 gridH(g,y,[5,10,15],f); gridV(g,xL,[1,4,7,10,13],top,bottom); frame(f,top,bottom);
 axis("left",128,y,[0,5,10,15,20]); axis("right",255,yR,[0,18,36,54,72]);
}

// ---------- WIND DIRECTION ----------
function arrows(g,x,cy,head,len){
 const a=g.selectAll(null).data(head.map((h,i)=>[i,h])).join("g").attr("transform",d=>`translate(${x(d[0])},${cy}) rotate(${d[1]})`);
 a.append("line").attr("x1",0).attr("x2",0).attr("y1",len/2).attr("y2",-len/2+2).attr("stroke","#000090").attr("stroke-width",1);
 a.append("path").attr("d",`M0,${-len/2} L-2.8,${-len/2+5.5} L2.8,${-len/2+5.5} Z`).attr("fill","#000090");
}
{
 const top=401.7,bottom=431.7,f=frameM,g=svg.append("g");
 arrows(g,xM,416.7,windHeading.slice(0,77),14);
 gridV(g,xM,d3.range(2,77,3),top,bottom);
 frame(f,top,bottom);
}
{
 const top=398.3,bottom=430,f=frameL,g=svg.append("g");
 arrows(g,d=>xL(d)+1,412.5,lHeading,17);
 gridV(g,xL,[1,4,7,10,13],top,bottom);
 frame(f,top,bottom);
}

// ---------- CLOUD BASE / VISIBILITY ----------
const baseColors=["#ffffff","#d8d4d0","#909090","#505050","#000000"];
const scaleBase=(b,t)=>d3.scaleLinear().domain([0,.5,2,7,15]).range([b,b-(b-t)*.25,b-(b-t)*.5,b-(b-t)*.75,t]);
const scaleVis=(b,t)=>d3.scaleLinear().domain([0,1,5,20,100]).range([b,b-(b-t)*.25,b-(b-t)*.5,b-(b-t)*.75,t]);
{
 const top=437.5,bottom=516,f=frameM,g=svg.append("g"),c=mkClip(f,top,bottom);
 const y=scaleBase(516,438),yR=scaleVis(516,438);
 g.append("rect").attr("x",349).attr("y",top).attr("width",492).attr("height",bottom-top).attr("fill",COL.skyDark);
 g.selectAll(null).data(dayBands).join("rect").attr("x",d=>xM(d[0])).attr("width",d=>xM(d[1])-xM(d[0])).attr("y",top).attr("height",bottom-top).attr("fill",COL.sky).attr("clip-path",`url(#${c})`);
 [base01,base25,base45,base65,base79].forEach((s,k)=>dots(g,xM,y,s,baseColors[k],3,c));
 dots(g,xM,y,topCloud,"#a82830",3,c);
 pathLine(g,xM,yR,I,visibility,"#ff8c00",2,c);
 gridH(g,y,[.5,2,7,15],f); gridV(g,xM,d3.range(2,77,3),top,bottom); frame(f,top,bottom);
 axis("left",345,y,[0,.5,2,7,15],d3.format(".1f"));
 axis("right",845,yR,[0,1,5,20,100],null,"#ff8c00");
}
{
 const top=436.7,bottom=514,f=frameL,g=svg.append("g"),c=mkClip(f,top,bottom);
 const y=scaleBase(514,436),yR=scaleVis(514,436);
 g.append("rect").attr("x",135).attr("y",top).attr("width",110.5).attr("height",bottom-top).attr("fill",COL.sky);
 g.append("rect").attr("x",170).attr("y",top).attr("width",61.5).attr("height",bottom-top).attr("fill",COL.skyDark);
 [lB01,lB25,lB45,lB65,lB79].forEach((s,k)=>dots(g,xL,y,s,baseColors[k],3,c));
 dots(g,xL,y,lTop,"#a82830",3,c);
 pathLine(g,xL,yR,JL,lVis,"#ff8c00",2,c);
 gridH(g,y,[.5,2,7,15],f); gridV(g,xL,[1,4,7,10,13],top,bottom); frame(f,top,bottom);
 axis("left",128,y,[0,.5,2,7,15],d3.format(".1f"));
 axis("right",255,yR,[0,1,5,20,100],null,"#ff8c00");
}

// ---------- CLOUDS / FOG ----------
function cloudPanel(f,x,top,bottom,y,yR,d){
 const g=svg.append("g"),c=mkClip(f,top,bottom);
 g.append("rect").attr("x",f.x0).attr("y",top).attr("width",f.x1-f.x0).attr("height",bottom-top).attr("fill",COL.sky);
 const zero=d.idx.map(()=>0), zero3=d.idx3.map(()=>0);
 band(g,x,y,d.idx,d.high,zero,"#ffffff",c);
 band(g,x,y,d.idx,d.mid,zero,"#909090",c);
 band(g,x,y,d.idx3,d.low,zero3,"#525252",c);
 band(g,x,y,d.idx3,d.vlow,zero3,"#383838",c);
 pathLine(g,x,y,d.idx,d.high,"#ffffff",1.1,c);
 pathLine(g,x,y,d.idx,d.mid,"#a0a0a0",1.1,c);
 g.selectAll(null).data(d.idx.filter(i=>d.fog[i]>0)).join("rect").attr("x",i=>x(i)+d.fogDx-1.6).attr("width",3.2).attr("y",i=>yR(d.fog[i])).attr("height",i=>yR(0)-yR(d.fog[i])).attr("fill","#ffb400").attr("clip-path",`url(#${c})`);
 gridH(g,y,[2,4,6],f); gridV(g,x,d.gridX,top,bottom); frame(f,top,bottom);
}
{
 const y=d3.scaleLinear().domain([0,8]).range([603.5,526]),yR=d3.scaleLinear().domain([0,1]).range([603.5,526]);
 cloudPanel(frameM,xM,525.7,603.7,y,yR,{idx:I,idx3:I3,high:cHigh,mid:cMid,low:cLow,vlow:cVlow,fog,fogDx:0,gridX:d3.range(2,77,3)});
 axis("left",345,y,[0,2,4,6,8]);
 axis("right",845,yR,[0,.25,.5,.75,1],null,"#ff8c00");
}
{
 const y=d3.scaleLinear().domain([0,8]).range([601,523.5]),yR=d3.scaleLinear().domain([0,1]).range([601,523.5]);
 cloudPanel(frameL,xL,523.3,601.3,y,yR,{idx:JL,idx3:JL,high:lHigh,mid:lMid,low:lLow,vlow:lVlow,fog:lFog,fogDx:1,gridX:[1,4,7,10,13]});
 axis("left",128,y,[0,2,4,6,8]);
 axis("right",255,yR,[0,.25,.5,.75,1],null,"#ff8c00");
}

// ---------- TEXT ----------
const T=svg.append("g");
txt(T,363,8,"wschód słońca: 07:30 CET",COL.navy,{anchor:"middle",spacing:.23});
txt(T,363,21,"zachód słońca: 15:16 CET",COL.navy,{anchor:"middle",spacing:.23});
txt(T,596,8,"21°45'49\"E, 53°35'57\"N",COL.navy,{anchor:"middle",spacing:.15});
txt(T,596,21,"(x=262, y=366)",COL.navy,{anchor:"middle",spacing:.25});
txt(T,818,8,"wysokość (min, środek, max)",COL.navy,{anchor:"middle",spacing:.12});
txt(T,819,21,"119 - 123 - 167 m",COL.navy,{anchor:"middle",spacing:.25});
dayTop.forEach(d=>txt(T,d[1],37,d[0],"#000",{anchor:"middle",spacing:.5}));
localTicksMain.forEach((s,k)=>txt(T,xM(2+k*6),50,s,"#000",{anchor:"middle"}));
utcTicksMain.forEach((s,k)=>txt(T,xM(2+k*6),612,s,"#000",{anchor:"middle"}));
dayBottom.forEach(d=>txt(T,d[1],625,d[0],"#000",{anchor:"middle",spacing:.3}));
txt(T,306,50,"CET","#000"); txt(T,860,50,"CET","#000");
txt(T,306,612,"UTC","#000"); txt(T,860,612,"UTC","#000");
[["20",0],["02",1],["08",2]].forEach(d=>txt(T,164+d[1]*40.7,48,d[0],"#000",{anchor:"middle"}));
[["18",0],["00",1],["06",2]].forEach(d=>txt(T,164+d[1]*40.7,610,d[0],"#000",{anchor:"middle"}));
// rotated titles: [label, centre y]
const titlesL1=[["temperatura",95],["opad",186],["ciśnienie",272],["wiatr",360],["pion. rozciągł. chm.",472],["zachmurzenie",572]];
const titlesL2=[["(°C)",97],["(mm/h, kg/m²/h)",187],["(hPa)",272],["(m/s)",361],["(km)",474],["(oktanty)",562]];
const titlesR1=[["temperatura",95],["wilgotność wzgl.",188],["ciśnienie",272],["wiatr",360],["widzialność",475],["mgła",563]];
const titlesR2=[["(°C)",97],["(%)",188],["(mm Hg)",272],["(km/h)",362],["(km)",474],["(frakcja)",563]];
titlesL1.forEach(d=>rot(T,290,d[1],d[0]));
titlesL2.forEach(d=>rot(T,303,d[1],d[0]));
titlesR1.forEach(d=>rot(T,902,d[1],d[0]));
titlesR2.forEach(d=>rot(T,889,d[1],d[0]));
// compass
[0,599].forEach(o=>{
 txt(T,282+o,416,"W",COL.navy,{size:13});
 T.append("text").attr("transform",`translate(${299+o},408) rotate(-90)`).attr("fill",COL.navy).attr("text-anchor","middle").attr("dominant-baseline","middle").text("N");
 T.append("text").attr("transform",`translate(${304+o},416) rotate(-90)`).attr("fill",COL.navy).attr("text-anchor","middle").attr("dominant-baseline","middle").text("E");
 T.append("text").attr("transform",`translate(${296+o},424) rotate(-90)`).attr("fill",COL.navy).attr("text-anchor","middle").attr("dominant-baseline","middle").text("S");
});
// footer
txt(T,309,648,"meteo@icm.edu.pl",COL.navy,{spacing:.6});
txt(T,623,648,"© 2007-2025 ICM, Uniwersytet Warszawski",COL.navy,{spacing:.6});
txt(T,5,648,"* powyżej poziomu morza","#000",{size:8.5,weight:"bold"});
// legend highlight boxes
T.append("rect").attr("x",11).attr("y",505).attr("width",44).attr("height",11).attr("fill",COL.sky);
T.append("rect").attr("x",10).attr("y",551).attr("width",41).attr("height",12).attr("fill",COL.sky);
const legend=[
 [6,15,"Czas lokalny","#000"],[6,26,"(CET/CEST)","#000"],
 [6,42,"Temperatura gruntu","#a52020"],[28,52,"max/min","#a52020"],[6,64,"Temperatura:","#000"],
 [13,76,"punkt środkowy","#f01010"],[28,86,"max/min","#ffd8c8"],[10,98,"odczuwana","#0010e0"],[28,108,"max/min","#a8d8ff"],
 [6,120,"Temp. punktu rosy","#6a5acd"],[6,137,"Opad powyżej skali","#f01010"],[6,151,"Wilgotność względna","#f05018"],
 [6,165,"Wystąpienie burzy","#000"],[6,179,"Deszcz: max","#00a000"],[49,190,"średni","#00a000"],
 [6,201,"Śnieg:","#2040c0"],[49,201,"max","#2040c0"],[49,212,"średni","#2040c0"],
 [5,224,"Wystąpienie opadu","#f01010"],[5,237,"konwekcyjnego","#f01010"],
 [5,263,"Ciśnienie","#000"],[5,276,"zredukowane","#000"],[5,289,"do poziomu morza","#000"],
 [5,318,"Wiatr na 10m:","#000"],[10,334,"poryw powyżej skali","#f01010"],[10,348,"max porywy wiatru","#f01010"],
 [10,368,"prędkość wiatru",COL.navy],[10,381,"w środku obszaru",COL.navy],[10,409,"kierunek wiatru",COL.navy],
 [6,429,"Wierzchołek chmur","#a52020"],[6,444,"Podstawa chmur*","#000"],[6,455,"o pokryciu","#000"],
 [11,468,"> 7.9 okt.","#000"],[11,479,"> 6.5 okt.","#505050"],[11,490,"> 4.5 okt.","#aaaaaa"],[11,500,"> 2.5 okt.","#dddddd"],[11,511,"> 0.1 okt.","#ffffff"],
 [6,526,"Widzialność","#ff8c00"],[6,543,"Chmury:","#000"],[11,556,"wysokie","#ffffff"],[10,569,"średnie","#999999"],
 [10,581,"niskie","#404040"],[10,593,"bardzo niskie","#404040"],[6,605,"Mgła","#ffb400"],[6,622,"Czas uniwersalny (UTC)","#000"]
];
legend.forEach(d=>txt(T,d[0],d[1],d[2],d[3],{size:11,spacing:-.1}));
// leader lines
const L=svg.append("g");
const leaders=[
 [[[67,16],[132,16],[157,45]],"#000"],
 [[[102,43],[120,43],[157,100]],"#a52020"],
 [[[92,77],[117,77]],"#f01010"],[[[130,77],[157,103]],"#f01010"],
 [[[70,99],[135,99]],"#0010e0"],
 [[[93,120],[115,120],[138,112]],"#6a5acd"],
 [[[103,137],[135,137],[146,146]],"#f01010"],
 [[[106,152],[111,152]],"#f05018"],[[[130,151],[144,170]],"#f05018"],
 [[[104,166],[112,166]],"#000"],[[[130,166],[139,173]],"#000"],
 [[[71,179],[140,179]],"#00a000"],[[[80,190],[143,190]],"#00a000"],
 [[[70,202],[112,202]],"#2040c0"],[[[130,202],[160,172]],"#2040c0"],
 [[[82,213],[128,213],[163,180]],"#2040c0"],
 [[[95,224],[140,224],[147,220]],"#f01010"],
 [[[52,264],[130,264],[135,262]],"#000"],
 [[[112,334],[118,334]],"#f01010"],[[[130,334],[138,316]],"#f01010"],
 [[[107,348],[130,348],[148,340]],"#f01010"],
 [[[92,367],[135,367]],"#0010a0"],
 [[[86,410],[140,410]],"#0010a0"],
 [[[100,431],[133,431],[185,447]],"#a52020"],
 [[[57,468],[145,468],[190,455]],"#000"],
 [[[57,480],[143,480]],"#505050"],
 [[[55,490],[130,490],[142,505]],"#909090"],
 [[[55,500],[130,500],[137,505]],"#d0ccc8"],
 [[[67,527],[130,527],[172,463]],"#ff8c00"],
 [[[50,571],[190,571]],"#909090"],
 [[[40,582],[123,582]],"#404040"],[[[130,582],[135,582]],"#404040"],
 [[[74,594],[137,594]],"#404040"],
 [[[27,605],[215,605],[218,601]],"#ffb400"],
 [[[140,623],[148,623],[157,608]],"#000"]
];
leaders.forEach(d=>line(L,d[0],d[1],1));
[[55,511,135],[52,557,185]].forEach(d=>{ line(L,[[d[0],d[1]],[d[2],d[1]]],COL.sky,3); line(L,[[d[0],d[1]],[d[2],d[1]]],"#fff",1); });
</script></body></html>
